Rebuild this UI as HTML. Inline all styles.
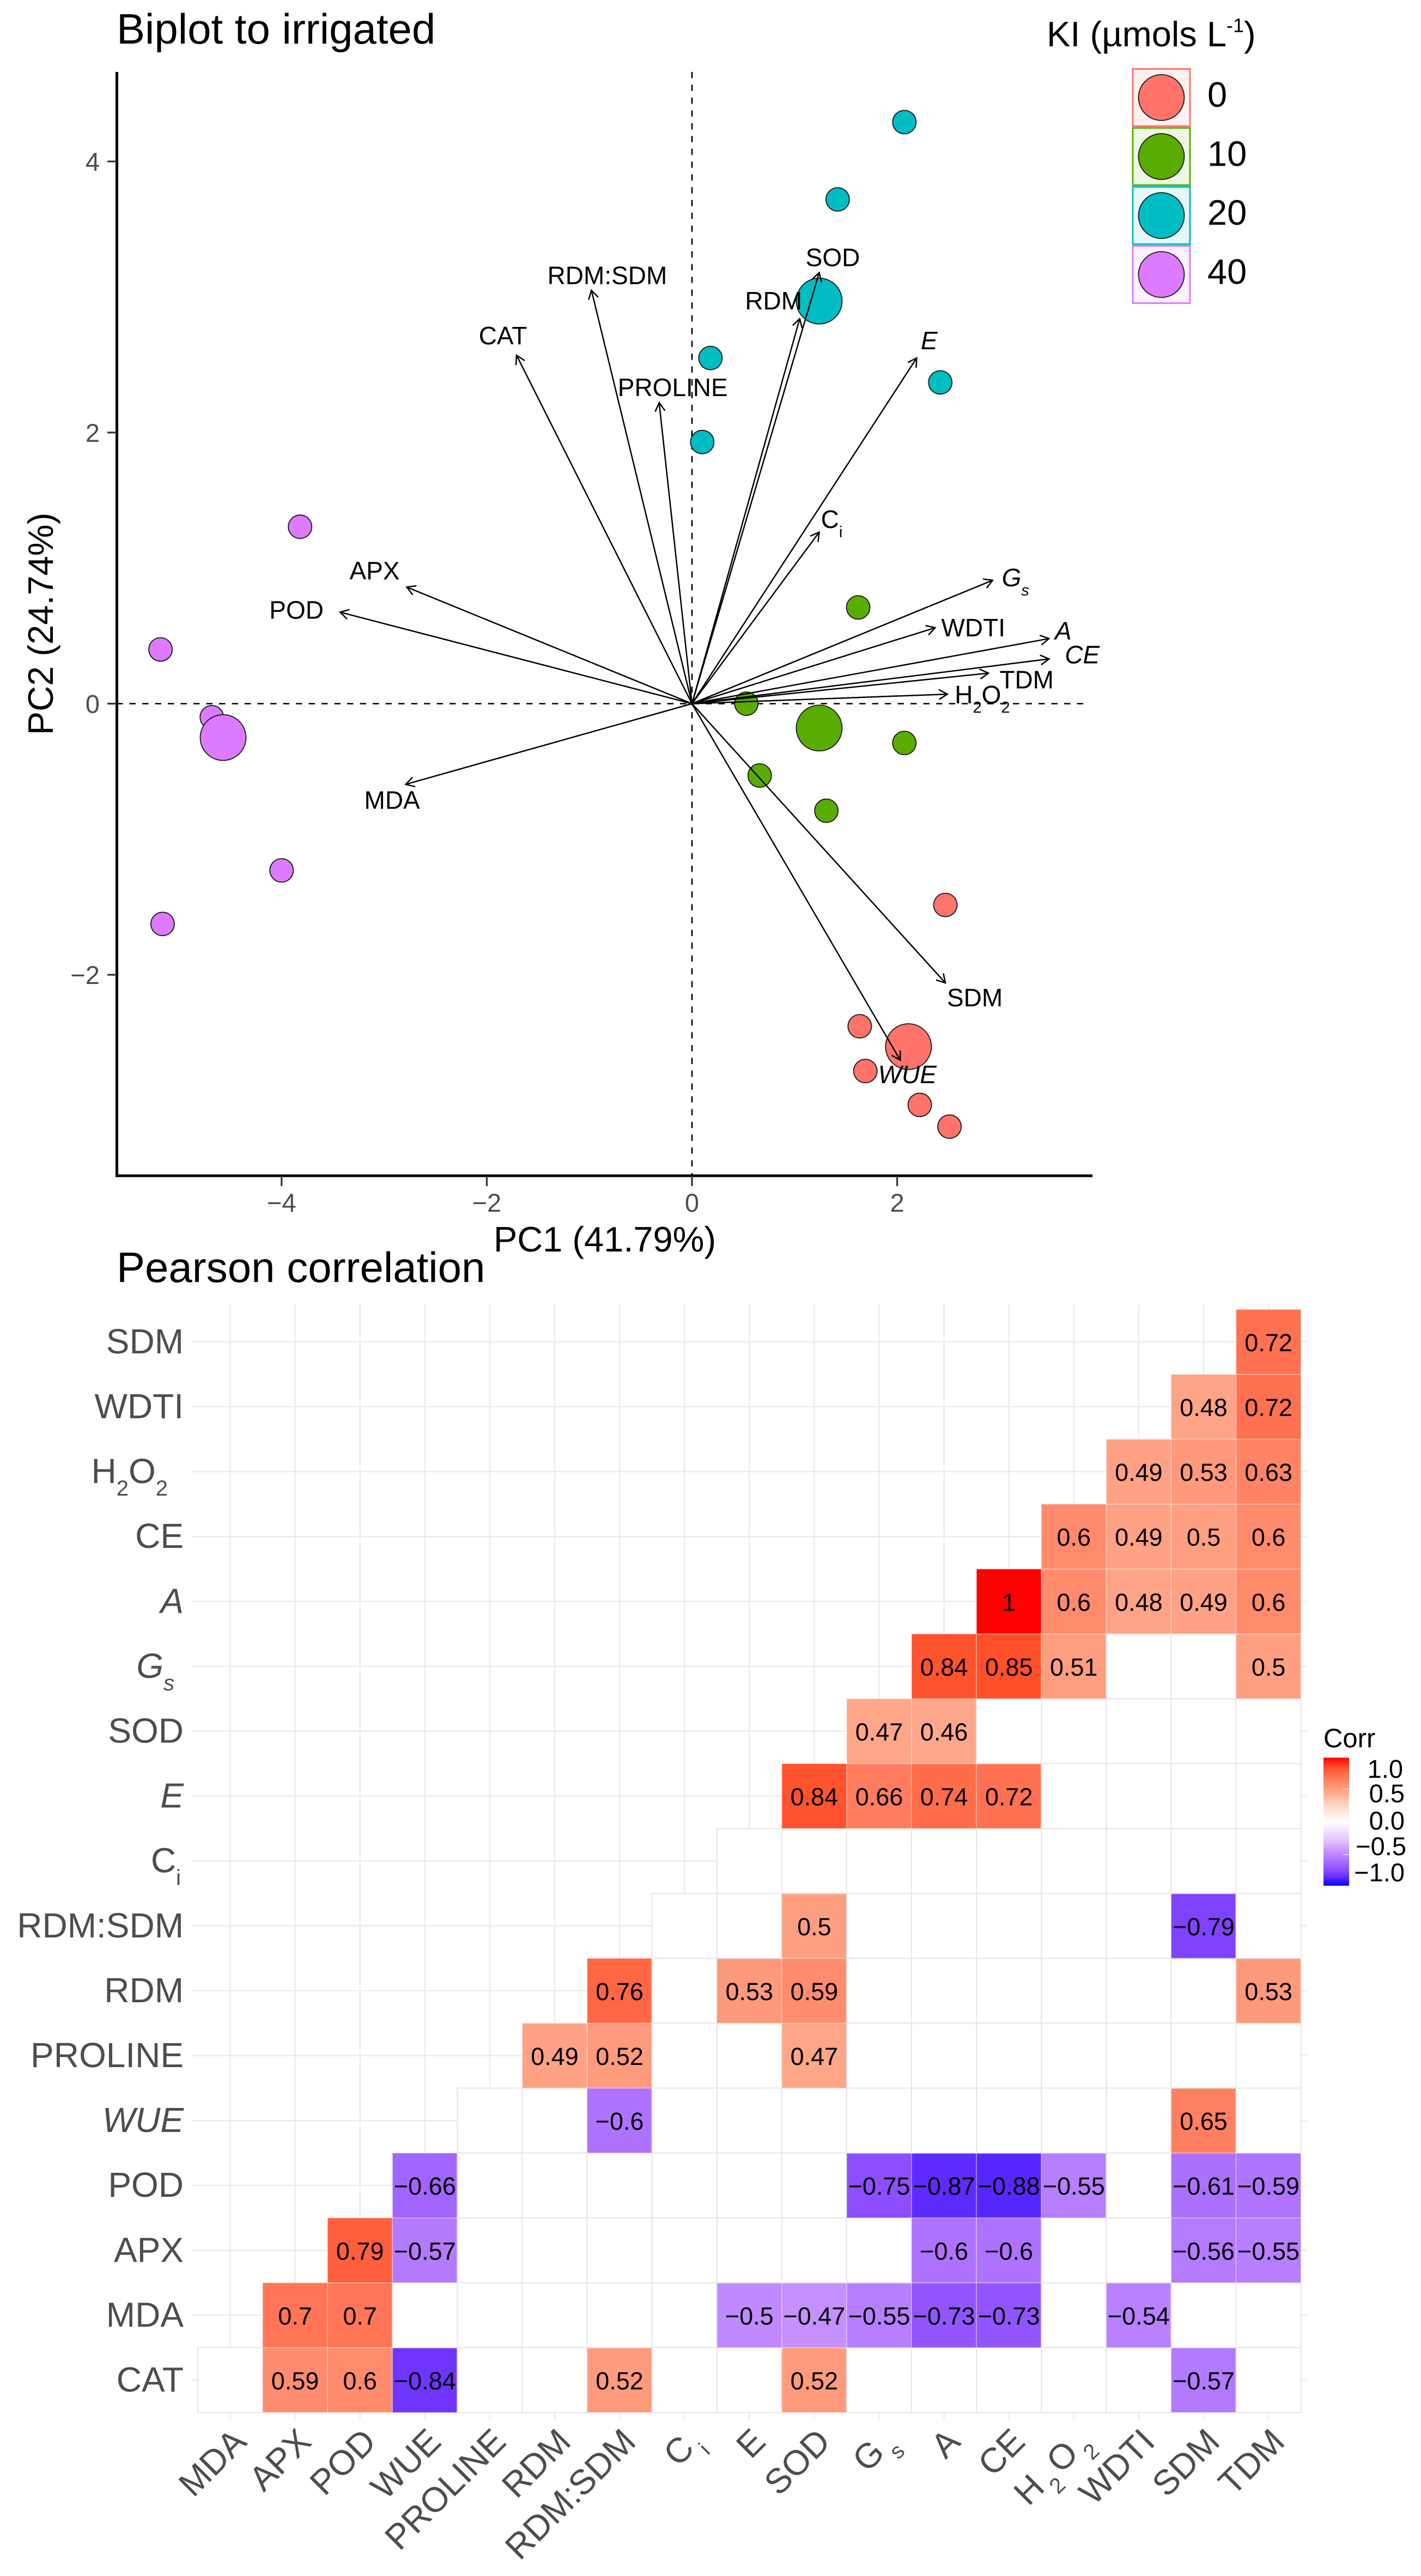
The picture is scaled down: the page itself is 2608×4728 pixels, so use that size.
<!DOCTYPE html>
<html lang="en">
<head>
<meta charset="utf-8">
<title>Biplot to irrigated and Pearson correlation</title>
<style>
html,body{margin:0;padding:0;background:#fff;}
svg{display:block;font-family:"Liberation Sans",Arial,sans-serif;}
</style>
</head>
<body>
<svg id="figure" xmlns="http://www.w3.org/2000/svg" width="2608" height="4728" viewBox="0 0 2608 4728">
  <defs>
    <linearGradient id="corrGradient" x1="0" y1="0" x2="0" y2="1">
      <stop offset="0" stop-color="#ff0000"/>
      <stop offset="0.075" stop-color="#ff5029"/>
      <stop offset="0.14" stop-color="#ff7150"/>
      <stop offset="0.2" stop-color="#ff8a6c"/>
      <stop offset="0.265" stop-color="#ffa588"/>
      <stop offset="0.375" stop-color="#ffd8c8"/>
      <stop offset="0.5" stop-color="#ffffff"/>
      <stop offset="0.625" stop-color="#e8cdff"/>
      <stop offset="0.735" stop-color="#c590ff"/>
      <stop offset="0.8" stop-color="#ae72ff"/>
      <stop offset="0.865" stop-color="#9254ff"/>
      <stop offset="0.925" stop-color="#6c32ff"/>
      <stop offset="1" stop-color="#0000ff"/>
    </linearGradient>
  </defs>
  <rect x="0" y="0" width="2608" height="4728" fill="#ffffff"/>

  <text x="214" y="80" font-size="78" fill="#000">Biplot to irrigated</text>
  <text x="1110" y="2297" font-size="65" text-anchor="middle" fill="#000">PC1 (41.79%)</text>
  <text transform="translate(97,1145) rotate(-90)" font-size="65" text-anchor="middle" fill="#000">PC2 (24.74%)</text>
  <g id="biplot"></g>

  <text x="1921" y="85" font-size="65" fill="#000">KI (µmols L<tspan font-size="36" dy="-26">-1</tspan><tspan dy="26">)</tspan></text>
  <g id="legend"></g>

  <text x="214" y="2353" font-size="78" fill="#000">Pearson correlation</text>
  <g id="heatmap"></g>

  <g>
    <text x="2429" y="3207" font-size="49" fill="#000">Corr</text>
    <rect x="2429" y="3226" width="47" height="235" fill="url(#corrGradient)"/>
    <rect x="2465" y="3283" width="11" height="1.5" fill="#fff" opacity="0.7"/>
    <rect x="2465" y="3403" width="11" height="1.5" fill="#fff" opacity="0.7"/>
    <text x="2575" y="3263" font-size="47" text-anchor="end">1.0</text>
    <text x="2578" y="3308" font-size="47" text-anchor="end">0.5</text>
    <text x="2578" y="3358" font-size="47" text-anchor="end">0.0</text>
    <text x="2581" y="3405" font-size="47" text-anchor="end">−0.5</text>
    <text x="2578" y="3453" font-size="47" text-anchor="end">−1.0</text>
  </g>
</svg>

<script>
/* ---------- biplot data (PCA units) ---------- */
const xTickValues = [-4, -2, 0, 2];
const yTickValues = [-2, 0, 2, 4];
const groupNames = ['0', '10', '20', '40'];
const scoresX0 = [2.47, 1.635, 1.69, 2.22, 2.51];
const scoresY0 = [-1.485, -2.38, -2.71, -2.96, -3.12];
const scoresX10 = [1.62, 0.53, 2.07, 0.66, 1.31];
const scoresY10 = [0.71, 0.0, -0.29, -0.53, -0.79];
const scoresX20 = [2.07, 1.42, 2.42, 0.18, 0.10];
const scoresY20 = [4.29, 3.72, 2.37, 2.55, 1.93];
const scoresX40 = [-3.82, -5.18, -4.68, -4.0, -5.16];
const scoresY40 = [1.305, 0.40, -0.10, -1.23, -1.625];
const centroidX = [2.11, 1.24, 1.24, -4.57];
const centroidY = [-2.53, -0.18, 2.97, -0.25];
const loadingNames = ['CAT','RDM:SDM','PROLINE','APX','POD','MDA','SOD','RDM','E','C_i','G_s','WDTI','A','CE','TDM','H_2O_2','SDM','WUE'];
const loadingX = [-1.71,-0.98,-0.32,-2.78,-3.43,-2.79,1.24,1.05,2.19,1.24,2.93,2.37,3.48,3.48,2.89,2.49,2.47,2.03];
const loadingY = [2.57,3.05,2.22,0.86,0.675,-0.595,3.18,2.84,2.55,1.265,0.91,0.56,0.48,0.33,0.225,0.07,-2.06,-2.63];

/* ---------- heatmap data (null = not significant, blank tile) ---------- */
const n = null;
const colLabels = ['MDA','APX','POD','WUE','PROLINE','RDM','RDM:SDM','C_i','E','SOD','G_s','A','CE','H_2O_2','WDTI','SDM','TDM'];
const rowLabels = ['CAT','MDA','APX','POD','WUE','PROLINE','RDM','RDM:SDM','C_i','E','SOD','G_s','A','CE','H_2O_2','WDTI','SDM'];
const corrCAT = [n,0.59,0.6,-0.84,n,n,0.52,n,n,0.52,n,n,n,n,n,-0.57,n];
const corrMDA = [n,0.7,0.7,n,n,n,n,n,-0.5,-0.47,-0.55,-0.73,-0.73,n,-0.54,n,n];
const corrAPX = [n,n,0.79,-0.57,n,n,n,n,n,n,n,-0.6,-0.6,n,n,-0.56,-0.55];
const corrPOD = [n,n,n,-0.66,n,n,n,n,n,n,-0.75,-0.87,-0.88,-0.55,n,-0.61,-0.59];
const corrWUE = [n,n,n,n,n,n,-0.6,n,n,n,n,n,n,n,n,0.65,n];
const corrPROLINE = [n,n,n,n,n,0.49,0.52,n,n,0.47,n,n,n,n,n,n,n];
const corrRDM = [n,n,n,n,n,n,0.76,n,0.53,0.59,n,n,n,n,n,n,0.53];
const corrRDMSDM = [n,n,n,n,n,n,n,n,n,0.5,n,n,n,n,n,-0.79,n];
const corrCi = [n,n,n,n,n,n,n,n,n,n,n,n,n,n,n,n,n];
const corrE = [n,n,n,n,n,n,n,n,n,0.84,0.66,0.74,0.72,n,n,n,n];
const corrSOD = [n,n,n,n,n,n,n,n,n,n,0.47,0.46,n,n,n,n,n];
const corrGs = [n,n,n,n,n,n,n,n,n,n,n,0.84,0.85,0.51,n,n,0.5];
const corrA = [n,n,n,n,n,n,n,n,n,n,n,n,1,0.6,0.48,0.49,0.6];
const corrCE = [n,n,n,n,n,n,n,n,n,n,n,n,n,0.6,0.49,0.5,0.6];
const corrH2O2 = [n,n,n,n,n,n,n,n,n,n,n,n,n,n,0.49,0.53,0.63];
const corrWDTI = [n,n,n,n,n,n,n,n,n,n,n,n,n,n,n,0.48,0.72];
const corrSDM = [n,n,n,n,n,n,n,n,n,n,n,n,n,n,n,n,0.72];

/* ---------- layout and style (not data) ---------- */
const SVGNS = 'http://www.w3.org/2000/svg';
const groupColor = {'0':'#ff736b','10':'#5aad00','20':'#00bdc4','40':'#dd7aff'};
const labelNudge = {
  'CAT':[-25,-36],'RDM:SDM':[29,-27],'PROLINE':[25,-28],'APX':[-59,-30],'POD':[-80,-4],'MDA':[-25,29],
  'SOD':[25,-28],'RDM':[-48,-33],'E':[23,-32],'C_i':[23,-24],'G_s':[42,-5],'WDTI':[70,0],'A':[26,-14],
  'CE':[61,-8],'TDM':[70,12],'H_2O_2':[64,1],'SDM':[54,27],'WUE':[13,26]
};
const biplotItalic = ['E','G_s','A','CE','WUE'];
const yLabelItalic = ['E','G_s','A','WUE'];
const yLabelShift = {'H_2O_2':-29,'G_s':-17,'C_i':-5};

function sx(v){ return 1270 + 188.3 * v; }
function sy(v){ return 1291.5 - 248.8 * v; }
const cellSize = 119.1;
function colX(c){ return 422.5 + cellSize * c; }
function rowY(r){ return 4428 - cellSize * (r + 0.5); }
function slug(s){ return s.replace(/[^A-Za-z0-9]+/g, '-').replace(/-+$/,'').toLowerCase(); }

function make(tag, attrs, parent){
  const el = document.createElementNS(SVGNS, tag);
  for (const k in attrs) el.setAttribute(k, attrs[k]);
  parent.appendChild(el);
  return el;
}
function fillRich(textEl, label, size, subGap){
  const parts = label.split(/_(.)/);
  let pendingDy = 0;
  parts.forEach(function(part, i){
    if (part === '') return;
    const span = document.createElementNS(SVGNS, 'tspan');
    span.textContent = part;
    const subDrop = Math.round(size * 0.36);
    if (i % 2 === 1) {
      span.setAttribute('font-size', Math.round(size * 0.62));
      span.setAttribute('dy', subDrop);
      if (subGap) span.setAttribute('dx', subGap);
      pendingDy = -subDrop;
    } else {
      if (pendingDy) span.setAttribute('dy', pendingDy);
      if (subGap && i > 0) span.setAttribute('dx', subGap);
      pendingDy = 0;
    }
    textEl.appendChild(span);
  });
}

function corrColor(v){
  const posStops = [[0,255,255,255],[0.25,255,216,200],[0.47,255,165,136],[0.6,255,138,108],[0.72,255,113,80],[0.85,255,80,42],[1,255,0,0]];
  const negStops = [[0,255,255,255],[0.25,232,205,255],[0.47,197,144,255],[0.6,174,114,255],[0.73,146,84,255],[0.85,108,50,255],[1,0,0,255]];
  const stops = v >= 0 ? posStops : negStops;
  const t = Math.min(1, Math.abs(v));
  for (let i = 1; i < stops.length; i++) {
    if (t <= stops[i][0]) {
      const a = stops[i-1], b = stops[i], f = (t - a[0]) / (b[0] - a[0]);
      return 'rgb(' + [1,2,3].map(function(k){ return Math.round(a[k] + (b[k]-a[k]) * f); }).join(',') + ')';
    }
  }
  return 'rgb(255,0,0)';
}

/* ---------- biplot ---------- */
const biplot = document.getElementById('biplot');
const scoreX = {'0':scoresX0,'10':scoresX10,'20':scoresX20,'40':scoresX40};
const scoreY = {'0':scoresY0,'10':scoresY10,'20':scoresY20,'40':scoresY40};

const vDash = make('line', {x1:sx(0), y1:132, x2:sx(0), y2:2158, stroke:'#000', 'stroke-width':2.6, 'stroke-dasharray':'11.5 12'}, biplot);


const hDash = make('line', {x1:214, y1:sy(0), x2:1994, y2:sy(0), stroke:'#000', 'stroke-width':2.6, 'stroke-dasharray':'11.5 12'}, biplot);



groupNames.forEach(function(g, gi){
  const xs = scoreX[g], ys = scoreY[g];
  xs.forEach(function(x, i){
    const pt = make('circle', {cx:sx(x), cy:sy(ys[i]), r:21.5, fill:groupColor[g], stroke:'#1a1a1a', 'stroke-width':1.8}, biplot);
    
    
  });
  const c = make('circle', {cx:sx(centroidX[gi]), cy:sy(centroidY[gi]), r:42, fill:groupColor[g], stroke:'#1a1a1a', 'stroke-width':1.8}, biplot);
  
  
});

loadingNames.forEach(function(name, i){
  const x0 = sx(0), y0 = sy(0), x1 = sx(loadingX[i]), y1 = sy(loadingY[i]);
  const ang = Math.atan2(y1 - y0, x1 - x0), barb = 18, spread = Math.PI / 6;
  const d = 'M' + x0 + ' ' + y0 + 'L' + x1 + ' ' + y1 +
    'M' + (x1 - barb*Math.cos(ang-spread)) + ' ' + (y1 - barb*Math.sin(ang-spread)) +
    'L' + x1 + ' ' + y1 +
    'L' + (x1 - barb*Math.cos(ang+spread)) + ' ' + (y1 - barb*Math.sin(ang+spread));
  const arrow = make('path', {d:d, fill:'none', stroke:'#000', 'stroke-width':2.5}, biplot);
  
  
});
loadingNames.forEach(function(name, i){
  const nudge = labelNudge[name] || [0, -30];
  const attrs = {x:sx(loadingX[i]) + nudge[0], y:sy(loadingY[i]) + nudge[1] + 16, 'font-size':46, 'text-anchor':'middle', fill:'#000'};
  if (biplotItalic.indexOf(name) >= 0) attrs['font-style'] = 'italic';
  const t = make('text', attrs, biplot);
  fillRich(t, name, 46, 0);
  
  
});

const yAxisLine = make('line', {x1:214.5, y1:132, x2:214.5, y2:2160.5, stroke:'#000', 'stroke-width':5}, biplot);


const xAxisLine = make('line', {x1:212, y1:2158, x2:2005, y2:2158, stroke:'#000', 'stroke-width':5}, biplot);



xTickValues.forEach(function(v){
  const tick = make('line', {x1:sx(v), y1:2158, x2:sx(v), y2:2177, stroke:'#333', 'stroke-width':3.2}, biplot);
  
  
  const lab = make('text', {x:sx(v), y:2224, 'font-size':47, 'text-anchor':'middle', fill:'#4d4d4d'}, biplot);
  lab.textContent = String(v).replace('-', '−');
  
  
});
yTickValues.forEach(function(v){
  const tick = make('line', {x1:197, y1:sy(v), x2:214, y2:sy(v), stroke:'#333', 'stroke-width':3.2}, biplot);
  
  
  const lab = make('text', {x:183, y:sy(v) + 17, 'font-size':47, 'text-anchor':'end', fill:'#4d4d4d'}, biplot);
  lab.textContent = String(v).replace('-', '−');
  
  
});

/* ---------- group legend ---------- */
const legend = document.getElementById('legend');
groupNames.forEach(function(g, i){
  const cy = 179 + 108.3 * i;
  const key = make('rect', {x:2079, y:cy - 52.5, width:105, height:105, fill:groupColor[g], 'fill-opacity':0.1, stroke:groupColor[g], 'stroke-width':3}, legend);
  
  
  const dot = make('circle', {cx:2131.5, cy:cy, r:42, fill:groupColor[g], stroke:'#1a1a1a', 'stroke-width':1.8}, legend);
  
  
  const lab = make('text', {x:2216, y:cy + 17, 'font-size':65, fill:'#000'}, legend);
  lab.textContent = g;
  
  
});

/* ---------- heatmap ---------- */
const heatmap = document.getElementById('heatmap');
const corrRows = [corrCAT,corrMDA,corrAPX,corrPOD,corrWUE,corrPROLINE,corrRDM,corrRDMSDM,corrCi,corrE,corrSOD,corrGs,corrA,corrCE,corrH2O2,corrWDTI,corrSDM];

colLabels.forEach(function(label, c){
  const g = make('line', {x1:colX(c), y1:2392, x2:colX(c), y2:4440, stroke:'#ebebeb', 'stroke-width':2.4}, heatmap);
  
  
});
rowLabels.forEach(function(label, r){
  const g = make('line', {x1:352, y1:rowY(r), x2:2398, y2:rowY(r), stroke:'#ebebeb', 'stroke-width':2.4}, heatmap);
  
  
});

corrRows.forEach(function(row, r){
  row.forEach(function(v, c){
    if (c < r) return;
    const filled = v !== null;
    const cell = make('rect', {
      x:colX(c) - cellSize/2, y:rowY(r) - cellSize/2, width:cellSize, height:cellSize,
      fill: filled ? corrColor(v) : '#ffffff',
      stroke: filled ? 'rgba(255,255,255,0.35)' : '#e6e6e6', 'stroke-width': filled ? 1.6 : 2
    }, heatmap);
    
    
  });
});
corrRows.forEach(function(row, r){
  row.forEach(function(v, c){
    if (c < r || v === null) return;
    const t = make('text', {x:colX(c), y:rowY(r) + 17, 'font-size':45, 'text-anchor':'middle', fill:'#000'}, heatmap);
    t.textContent = String(v).replace('-', '−');
    
    
  });
});

rowLabels.forEach(function(label, r){
  const attrs = {x:337 + (yLabelShift[label] || 0), y:rowY(r) + 21, 'font-size':64, 'text-anchor':'end', fill:'#4d4d4d'};
  if (yLabelItalic.indexOf(label) >= 0) attrs['font-style'] = 'italic';
  const t = make('text', attrs, heatmap);
  fillRich(t, label, 64, 0);
  
  
});
colLabels.forEach(function(label, c){
  const t = make('text', {transform:'translate(' + (colX(c) + 33) + ',4485) rotate(-45)', 'font-size':64, 'text-anchor':'end', fill:'#4d4d4d'}, heatmap);
  fillRich(t, label, 64, label.indexOf('_') >= 0 ? 8 : 0);
  
  
});
</script>
</body>
</html>
